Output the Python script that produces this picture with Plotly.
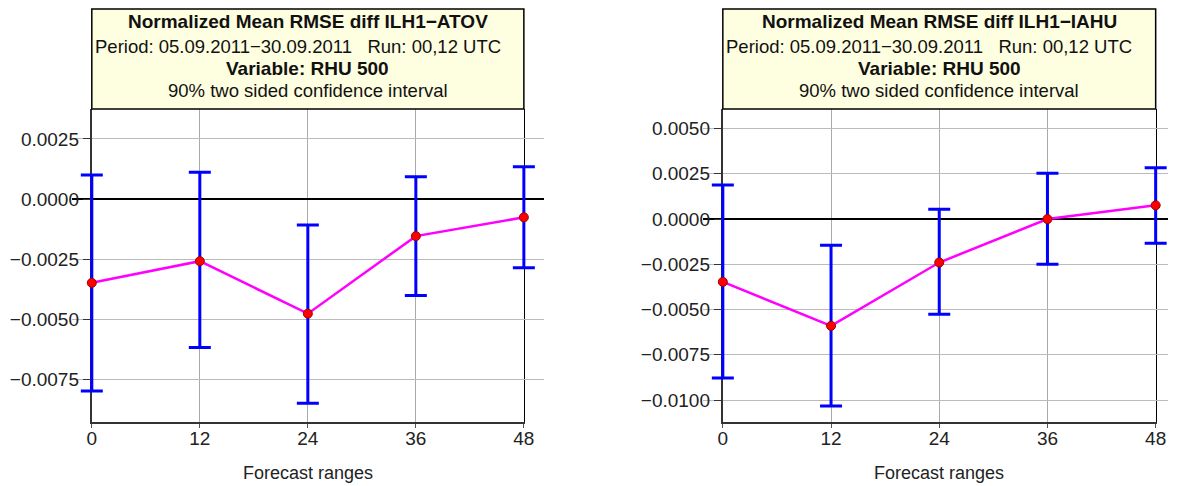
import plotly.graph_objects as go

# Forecast ranges (hours)
ranges = [0, 12, 24, 36, 48]

# ILH1-ATOV: normalized mean RMSE difference with 90% confidence bounds
atov_mean = [-0.00348, -0.00258, -0.00476, -0.00154, -0.00076]
atov_upper = [0.00100, 0.00111, -0.00108, 0.00093, 0.00134]
atov_lower = [-0.00797, -0.00617, -0.00848, -0.00401, -0.00285]

# ILH1-IAHU
iahu_mean = [-0.00347, -0.00590, -0.00240, 0.00000, 0.00076]
iahu_upper = [0.00188, -0.00144, 0.00054, 0.00253, 0.00284]
iahu_lower = [-0.00878, -0.01033, -0.00526, -0.00250, -0.00134]

titles = ["Normalized Mean RMSE diff ILH1\u2212ATOV",
          "Normalized Mean RMSE diff ILH1\u2212IAHU"]
period_line = "Period: 05.09.2011\u221230.09.2011   Run: 00,12 UTC"
variable_line = "Variable: RHU 500"
ci_line = "90% two sided confidence interval"

W, H = 1179, 486
FONT = "Liberation Sans, Arial, Helvetica, sans-serif"


def px_x(p):
    return p / W


def px_y(p):
    return 1 - p / H


panels = [
    dict(mean=atov_mean, up=atov_upper, lo=atov_lower, x0=88, x1=526,
         yrange=[-0.00926, 0.00374], title=titles[0]),
    dict(mean=iahu_mean, up=iahu_upper, lo=iahu_lower, x0=727.7, x1=1166.5,
         yrange=[-0.01121, 0.00608], title=titles[1]),
]

plot_top, plot_bottom = 109, 422
box_top = 9
PAD = 20  # extra room (px) so caps at the first/last range are not clipped

fig = go.Figure()
layout = dict(
    width=W, height=H, margin=dict(l=0, r=0, t=0, b=0),
    paper_bgcolor="white", plot_bgcolor="rgba(0,0,0,0)", showlegend=False,
    font=dict(family=FONT, size=18, color="#222"),
)
shapes, annotations = [], []

for i, p in enumerate(panels):
    n = i + 1
    xa = "x" if n == 1 else f"x{n}"
    ya = "y" if n == 1 else f"y{n}"
    ya_mirror = f"y{n + 2}"
    xa_data = f"x{n + 4}"
    err_plus = [u - m for u, m in zip(p["up"], p["mean"])]
    err_minus = [m - l for m, l in zip(p["mean"], p["lo"])]

    # confidence interval bars (on a hidden, slightly wider x axis)
    fig.add_trace(go.Scatter(
        x=ranges, y=p["mean"], xaxis=xa_data, yaxis=ya, mode="markers",
        marker=dict(color="rgba(0,0,0,0)", size=2),
        error_y=dict(type="data", array=err_plus, arrayminus=err_minus,
                     color="#0000ff", thickness=3, width=11, visible=True),
        cliponaxis=False, hoverinfo="skip",
    ))
    # mean difference line
    fig.add_trace(go.Scatter(
        x=ranges, y=p["mean"], xaxis=xa_data, yaxis=ya, mode="lines+markers",
        line=dict(color="#ff00ff", width=2.5),
        marker=dict(color="#ff0000", size=9, line=dict(color="#990000", width=1)),
        cliponaxis=False,
    ))
    # empty trace to carry the right-hand tick axis
    fig.add_trace(go.Scatter(x=[None], y=[None], xaxis=xa, yaxis=ya_mirror,
                             mode="markers", hoverinfo="skip"))

    xdom = [px_x(p["x0"]), px_x(p["x1"])]
    ydom = [px_y(plot_bottom), px_y(plot_top)]
    per_px = 48 / (p["x1"] - p["x0"])
    pad_l = min(PAD, p["x0"])
    pad_r = min(PAD, W - p["x1"])
    layout["xaxis" if n == 1 else f"xaxis{n}"] = dict(
        domain=xdom, anchor=ya, range=[0, 48], tickvals=ranges,
        showgrid=True, gridcolor="#aaaaaa", gridwidth=1, zeroline=False,
        showline=True, linecolor="#333", linewidth=2, layer="below traces",
        ticks="outside", ticklen=4, tickcolor="#555", ticklabelstandoff=-6,
        tickfont=dict(size=19, color="#222"),
    )
    layout[f"xaxis{n + 4}"] = dict(
        domain=[px_x(p["x0"] - pad_l), px_x(p["x1"] + pad_r)], anchor=ya,
        range=[-pad_l * per_px, 48 + pad_r * per_px], visible=False,
    )
    layout["yaxis" if n == 1 else f"yaxis{n}"] = dict(
        domain=ydom, anchor=xa, range=p["yrange"], dtick=0.0025, tick0=0,
        tickformat=".4f", showgrid=True, gridcolor="#bbbbbb", gridwidth=1,
        zeroline=True, zerolinecolor="black", zerolinewidth=2,
        showline=True, linecolor="#333", linewidth=2, layer="below traces",
        ticks="outside", ticklen=7, tickcolor="#333",
        tickfont=dict(size=19, color="#222"),
    )
    layout[f"yaxis{n + 2}"] = dict(
        overlaying=ya, matches=ya, anchor=xa, side="right",
        range=p["yrange"], dtick=0.0025, tick0=0, layer="below traces",
        showgrid=False, zeroline=False, showticklabels=False,
        showline=True, linecolor="black", linewidth=1,
        ticks="outside", ticklen=8, tickcolor="#333",
    )

    # header box
    shapes.append(dict(
        type="rect", xref="paper", yref="paper",
        x0=px_x(p["x0"]), x1=px_x(p["x1"]), y0=px_y(plot_top), y1=px_y(box_top),
        fillcolor="#fefee0", line=dict(color="black", width=1.5), layer="above",
    ))
    mid = (p["x0"] + p["x1"]) / 2
    for text, ypix, dx, bold, size in [(p["title"], 21.5, 0, True, 19),
                                       (period_line, 46.5, -10, False, 18.5),
                                       (variable_line, 69, 0, True, 19),
                                       (ci_line, 91, 0, False, 18.5)]:
        annotations.append(dict(
            x=px_x(mid + dx), y=px_y(ypix), xref="paper", yref="paper",
            xanchor="center", yanchor="middle", showarrow=False,
            text=f"<b>{text}</b>" if bold else text,
            font=dict(family=FONT, size=size, color="#111"),
        ))
    annotations.append(dict(
        x=px_x(mid), y=px_y(461), xref="paper", yref="paper",
        xanchor="center", yanchor="top", showarrow=False,
        text="Forecast ranges", font=dict(family=FONT, size=18, color="#222"),
    ))

layout["shapes"] = shapes
layout["annotations"] = annotations
fig.update_layout(**layout)
fig.write_html("out.html")
